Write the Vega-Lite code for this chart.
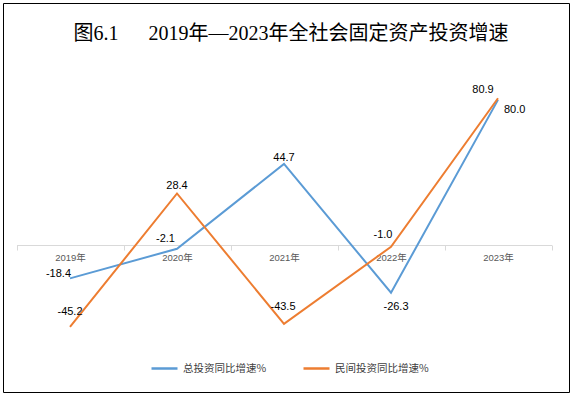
{
  "$schema": "https://vega.github.io/schema/vega-lite/v6.json",
  "autosize": "none",
  "width": 566,
  "height": 389,
  "padding": {"left": 3, "top": 3, "right": 6, "bottom": 4},
  "background": "white",
  "config": {
    "view": {"stroke": "black", "strokeWidth": 1},
    "font": "Liberation Sans",
    "locale": {"number": {"decimal": ".", "thousands": ",", "grouping": [3], "currency": ["", ""], "minus": "-"}}
  },
  "title": {
    "text": "图6.1\u3000\u20022019年—2023年全社会固定资产投资增速",
    "font": "Liberation Serif, Noto Sans CJK SC",
    "fontSize": 20,
    "fontWeight": "normal",
    "color": "black",
    "anchor": "middle",
    "frame": "group",
    "baseline": "middle",
    "offset": 0,
    "dy": 51,
    "dx": 5
  },
  "data": {
    "values": [
      {"year": "2019年", "series": "总投资同比增速%", "value": -18.4},
      {"year": "2020年", "series": "总投资同比增速%", "value": -2.1},
      {"year": "2021年", "series": "总投资同比增速%", "value": 44.7},
      {"year": "2022年", "series": "总投资同比增速%", "value": -26.3},
      {"year": "2023年", "series": "总投资同比增速%", "value": 80.0},
      {"year": "2019年", "series": "民间投资同比增速%", "value": -45.2},
      {"year": "2020年", "series": "民间投资同比增速%", "value": 28.4},
      {"year": "2021年", "series": "民间投资同比增速%", "value": -43.5},
      {"year": "2022年", "series": "民间投资同比增速%", "value": -1.0},
      {"year": "2023年", "series": "民间投资同比增速%", "value": 80.9}
    ]
  },
  "encoding": {
    "x": {
      "field": "year", "type": "nominal", "sort": null,
      "scale": {"type": "band", "range": [13.5, 548.5], "paddingInner": 0, "paddingOuter": 0},
      "axis": {
        "title": null, "labelAngle": 0, "offset": -147,
        "domainColor": "#d9d9d9", "tickColor": "#d9d9d9", "tickSize": 5, "tickBand": "extent",
        "labelFont": "Liberation Sans, Noto Sans CJK SC", "labelFontSize": 9.5, "labelColor": "#595959", "labelPadding": 2
      }
    },
    "y": {
      "field": "value", "type": "quantitative",
      "scale": {"domain": [-60, 100], "range": [350.8, 60.6], "nice": false, "zero": false},
      "axis": null
    }
  },
  "layer": [
    {
      "mark": {"type": "line", "strokeWidth": 2},
      "encoding": {
        "color": {
          "field": "series", "type": "nominal",
          "scale": {"domain": ["总投资同比增速%", "民间投资同比增速%"], "range": ["#5b9bd5", "#ed7d31"]},
          "legend": {
            "title": null, "orient": "none", "legendX": 147, "legendY": 351, "direction": "horizontal",
            "symbolType": "stroke", "symbolSize": 676, "symbolStrokeWidth": 2.5, "columnPadding": 31, "labelOffset": 4,
            "labelFont": "Noto Sans CJK SC", "labelFontSize": 10.5, "labelColor": "#404040"
          }
        }
      }
    },
    {
      "transform": [{"filter": "datum.series == '总投资同比增速%' && datum.year == '2019年'"}],
      "mark": {"type": "text", "align": "right", "baseline": "alphabetic", "dx": 1, "dy": -1, "fontSize": 11, "color": "black"},
      "encoding": {"text": {"field": "value", "type": "quantitative", "format": ".1f"}}
    },
    {
      "transform": [{"filter": "datum.series == '总投资同比增速%' && datum.year == '2020年'"}],
      "mark": {"type": "text", "align": "right", "baseline": "alphabetic", "dx": -2, "dy": -7, "fontSize": 11, "color": "black"},
      "encoding": {"text": {"field": "value", "type": "quantitative", "format": ".1f"}}
    },
    {
      "transform": [{"filter": "datum.series == '总投资同比增速%' && datum.year == '2021年'"}],
      "mark": {"type": "text", "align": "center", "baseline": "alphabetic", "dx": 0, "dy": -3, "fontSize": 11, "color": "black"},
      "encoding": {"text": {"field": "value", "type": "quantitative", "format": ".1f"}}
    },
    {
      "transform": [{"filter": "datum.series == '总投资同比增速%' && datum.year == '2022年'"}],
      "mark": {"type": "text", "align": "center", "baseline": "top", "dx": 5, "dy": 8, "fontSize": 11, "color": "black"},
      "encoding": {"text": {"field": "value", "type": "quantitative", "format": ".1f"}}
    },
    {
      "transform": [{"filter": "datum.series == '总投资同比增速%' && datum.year == '2023年'"}],
      "mark": {"type": "text", "align": "left", "baseline": "middle", "dx": 6, "dy": 10, "fontSize": 11, "color": "black"},
      "encoding": {"text": {"field": "value", "type": "quantitative", "format": ".1f"}}
    },
    {
      "transform": [{"filter": "datum.series == '民间投资同比增速%' && datum.year == '2019年'"}],
      "mark": {"type": "text", "align": "center", "baseline": "alphabetic", "dx": 0, "dy": -12, "fontSize": 11, "color": "black"},
      "encoding": {"text": {"field": "value", "type": "quantitative", "format": ".1f"}}
    },
    {
      "transform": [{"filter": "datum.series == '民间投资同比增速%' && datum.year == '2020年'"}],
      "mark": {"type": "text", "align": "center", "baseline": "alphabetic", "dx": 0, "dy": -4, "fontSize": 11, "color": "black"},
      "encoding": {"text": {"field": "value", "type": "quantitative", "format": ".1f"}}
    },
    {
      "transform": [{"filter": "datum.series == '民间投资同比增速%' && datum.year == '2021年'"}],
      "mark": {"type": "text", "align": "center", "baseline": "alphabetic", "dx": -1, "dy": -14, "fontSize": 11, "color": "black"},
      "encoding": {"text": {"field": "value", "type": "quantitative", "format": ".1f"}}
    },
    {
      "transform": [{"filter": "datum.series == '民间投资同比增速%' && datum.year == '2022年'"}],
      "mark": {"type": "text", "align": "center", "baseline": "alphabetic", "dx": -8, "dy": -9, "fontSize": 11, "color": "black"},
      "encoding": {"text": {"field": "value", "type": "quantitative", "format": ".1f"}}
    },
    {
      "transform": [{"filter": "datum.series == '民间投资同比增速%' && datum.year == '2023年'"}],
      "mark": {"type": "text", "align": "center", "baseline": "alphabetic", "dx": -15, "dy": -5, "fontSize": 11, "color": "black"},
      "encoding": {"text": {"field": "value", "type": "quantitative", "format": ".1f"}}
    }
  ]
}
